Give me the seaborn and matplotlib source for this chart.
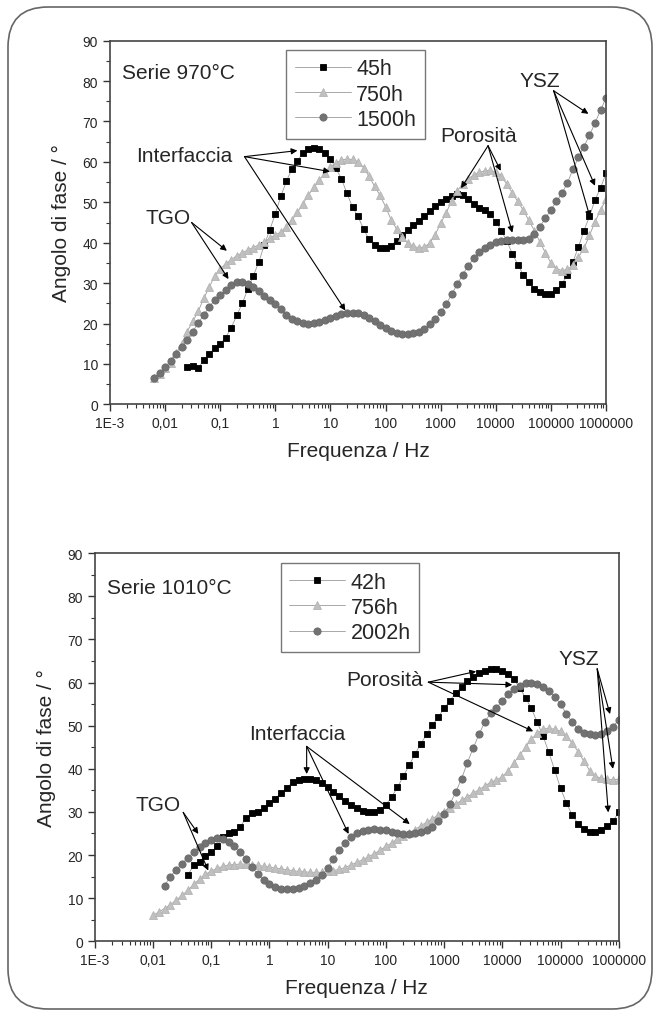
import numpy as np
import pandas as pd
import seaborn as sns
import matplotlib
matplotlib.use("Agg")
import matplotlib.pyplot as plt
from matplotlib.patches import FancyBboxPatch
from matplotlib.transforms import IdentityTransform
from matplotlib.ticker import LogLocator, NullFormatter, MultipleLocator

# Phase angle (deg), one value every 0.1 decade,
# each sweep ends at 1 MHz and starts at the exponent given below
# --- Serie 970°C ---
top_labels = ["45h", "750h", "1500h"]
top_start = [-1.6, -2.2, -2.2]
top_45h = [9.2, 9.6, 8.9, 11.0, 12.4, 14.0, 15.0, 16.5, 19.0, 22.0,
           25.0, 28.5, 31.8, 35.2, 39.5, 43.2, 47.2, 51.5, 55.2, 58.2,
           60.3, 62.2, 63.1, 63.4, 63.3, 62.3, 60.7, 58.4, 55.8, 52.2,
           48.8, 46.5, 43.4, 40.8, 39.4, 38.7, 38.7, 39.3, 40.5, 41.8,
           43.2, 44.4, 45.4, 46.7, 47.9, 49.0, 50.0, 50.8, 51.5, 52.0,
           51.8, 50.8, 49.7, 48.6, 48.0, 47.0, 45.2, 43.0, 40.4, 37.3,
           34.6, 32.0, 30.2, 28.6, 27.8, 27.3, 27.3, 28.2, 29.8, 32.0,
           35.2, 39.0, 43.0, 46.5, 50.6, 53.5, 57.2]
top_750h = [6.5, 7.6, 8.9, 10.2, 12.6, 15.0, 18.0, 20.5, 23.0, 26.2,
            29.0, 31.8, 33.5, 34.8, 35.8, 36.8, 37.5, 38.2, 38.8, 39.5,
            40.2, 41.1, 42.0, 42.6, 44.0, 45.5, 47.5, 49.6, 51.8, 53.7,
            55.5, 57.2, 58.8, 59.7, 60.5, 60.7, 60.6, 60.0, 58.6, 56.4,
            54.0, 51.7, 48.9, 45.7, 43.4, 41.3, 39.9, 39.1, 38.8, 38.9,
            39.9, 42.0, 44.8, 47.4, 50.4, 52.8, 54.5, 55.8, 56.8, 57.4,
            57.8, 57.9, 57.4, 56.4, 54.5, 52.3, 50.2, 48.0, 45.5, 43.0,
            40.2, 37.5, 35.0, 33.6, 33.1, 33.4, 34.4, 36.4, 38.6, 41.8,
            45.2, 48.0, 50.8]
top_1500h = [6.6, 7.8, 9.3, 10.7, 12.4, 14.1, 15.9, 18.0, 20.1, 22.1,
             24.1, 25.8, 27.1, 28.3, 29.5, 30.2, 30.3, 29.9, 29.1, 28.0,
             26.9, 25.9, 24.8, 23.5, 22.2, 21.2, 20.5, 20.1, 20.0, 20.1,
             20.4, 20.9, 21.4, 21.9, 22.4, 22.7, 22.7, 22.5, 22.0, 21.4,
             20.6, 19.7, 18.9, 18.2, 17.7, 17.5, 17.4, 17.6, 18.0, 18.7,
             19.8, 21.1, 22.8, 24.8, 27.2, 29.7, 32.1, 34.3, 36.1, 37.6,
             38.7, 39.5, 40.1, 40.5, 40.6, 40.7, 40.7, 40.7, 40.9, 42.2,
             44.0, 46.0, 48.2, 50.2, 52.2, 54.8, 58.2, 61.1, 63.8, 66.6,
             69.6, 72.8, 75.8]

# --- Serie 1010°C ---
bot_labels = ["42h", "756h", "2002h"]
bot_start = [-1.4, -2.0, -1.8]
bot_42h = [15.4, 17.6, 18.5, 19.8, 20.6, 22.0, 24.2, 25.0, 25.4, 26.6,
           28.6, 29.7, 30.0, 30.8, 32.1, 33.1, 34.4, 35.6, 36.9, 37.4,
           37.6, 37.6, 37.3, 36.6, 35.7, 34.6, 33.7, 32.6, 31.7, 30.8,
           30.2, 29.9, 30.0, 30.5, 31.6, 33.5, 35.7, 38.3, 40.8, 43.4,
           45.8, 48.0, 50.1, 52.0, 54.0, 55.8, 57.6, 59.0, 60.3, 61.4,
           62.3, 62.8, 63.2, 63.1, 62.8, 62.1, 60.8, 58.7, 56.5, 54.0,
           50.8, 47.6, 43.8, 39.7, 35.5, 32.1, 29.3, 27.3, 26.0, 25.3,
           25.3, 25.9, 26.8, 27.8, 30.0]
bot_756h = [6.0, 6.8, 7.6, 8.5, 9.5, 10.7, 11.8, 13.2, 14.4, 15.5,
            16.3, 16.9, 17.4, 17.7, 17.8, 17.9, 17.9, 17.8, 17.6, 17.4,
            17.2, 17.0, 16.8, 16.6, 16.4, 16.2, 16.1, 16.0, 16.0, 16.0,
            16.2, 16.4, 16.7, 17.1, 17.7, 18.3, 18.9, 19.6, 20.3, 21.1,
            22.0, 22.8, 23.7, 24.5, 25.2, 25.9, 26.8, 27.6, 28.4, 29.3,
            30.1, 31.0, 31.8, 32.7, 33.5, 34.3, 35.2, 36.0, 36.9, 37.4,
            38.2, 39.5, 41.4, 43.2, 45.0, 46.9, 48.2, 49.2, 49.4, 49.2,
            48.7, 47.5, 46.0, 44.0, 41.8, 39.6, 38.3, 37.8, 37.6, 37.5,
            37.6]
bot_2002h = [12.9, 15.0, 16.6, 18.0, 19.4, 20.7, 21.8, 22.8, 23.6, 23.9,
             23.7, 23.1, 22.2, 20.8, 19.1, 17.2, 15.6, 14.2, 13.3, 12.6,
             12.2, 12.1, 12.1, 12.3, 12.9, 13.6, 14.3, 15.3, 16.9, 19.1,
             21.2, 22.9, 24.2, 25.1, 25.6, 25.9, 26.0, 25.9, 25.7, 25.4,
             25.1, 24.9, 24.9, 25.0, 25.3, 25.7, 26.6, 27.9, 29.5, 31.8,
             34.6, 37.7, 41.4, 44.8, 48.0, 50.9, 52.9, 54.2, 55.8, 57.3,
             58.5, 59.3, 59.8, 59.9, 59.6, 59.0, 58.0, 56.7, 55.0, 52.8,
             50.8, 49.3, 48.4, 48.0, 47.9, 48.1, 48.7, 49.8, 51.4]

x_ticks = [1e-3, 1e-2, 1e-1, 1, 10, 100, 1e3, 1e4, 1e5, 1e6]
x_ticklabels = ["1E-3", "0,01", "0,1", "1", "10", "100", "1000", "10000",
                "100000", "1000000"]

# annotations: label, text (log10 f, deg), arrow tail, arrow heads
top_notes = [
    ("Interfaccia", (-1.66, 61.5), (-0.56, 61.3), [(0.40, 62.8), (0.99, 57.6), (1.27, 23.2)]),
    ("TGO", (-1.95, 46.3), (-1.52, 45.0), [(-0.88, 38.0), (-0.85, 31.0)]),
    ("Porosità", (3.68, 66.5), (3.86, 64.0), [(3.37, 53.5), (4.09, 57.8), (4.30, 42.5)]),
    ("YSZ", (4.80, 80.1), (5.05, 77.6), [(5.68, 71.9), (5.80, 54.1), (5.71, 46.3)]),
]
bot_notes = [
    ("Interfaccia", (0.48, 48.1), (0.64, 45.2), [(0.64, 38.8), (1.36, 24.9), (2.41, 27.2)]),
    ("Porosità", (1.97, 60.8), (2.73, 60.1), [(3.55, 62.6), (4.17, 59.5), (4.53, 48.7)]),
    ("YSZ", (5.32, 65.5), (5.63, 63.2), [(5.85, 52.7), (5.90, 40.0), (5.82, 29.9)]),
    ("TGO", (-1.92, 31.8), (-1.48, 29.9), [(-1.22, 24.9), (-1.05, 16.4)]),
]

styles = [
    dict(marker="s", markersize=4.4, markerfacecolor="black", markeredgecolor="black"),
    dict(marker="^", markersize=5.4, markerfacecolor="#c0c0c0", markeredgecolor="#b4b4b4"),
    dict(marker="o", markersize=5.2, markerfacecolor="#727272", markeredgecolor="#6a6a6a"),
]

sns.set_style("ticks")
plt.rcParams["font.family"] = ["Liberation Sans", "DejaVu Sans"]


def draw_panel(ax, series, starts, labels, notes, title):
    for vals, start, lab, st in zip(series, starts, labels, styles):
        freq = np.logspace(start, 6, len(vals))
        df = pd.DataFrame({"f": freq, "phase": vals})
        sns.lineplot(data=df, x="f", y="phase", ax=ax, label=lab, color="#9a9a9a",
                     lw=0.6, markeredgewidth=0.6, **st)
    ax.set_xscale("log")
    ax.set_xlim(1e-3, 1e6)
    ax.set_ylim(0, 90)
    ax.set_xticks(x_ticks)
    ax.set_xticklabels(x_ticklabels)
    ax.xaxis.set_minor_locator(LogLocator(base=10, subs=np.arange(2, 10), numticks=20))
    ax.xaxis.set_minor_formatter(NullFormatter())
    ax.yaxis.set_major_locator(MultipleLocator(10))
    ax.yaxis.set_minor_locator(MultipleLocator(5))
    ax.tick_params(which="major", direction="out", length=5, width=1.0, labelsize=10,
                   color="#333333")
    ax.tick_params(which="minor", direction="out", length=3, width=0.8, color="#333333")
    for sp in ax.spines.values():
        sp.set_color("#444444")
        sp.set_linewidth(1.2)
        sp.set_visible(True)
    ax.set_xlabel("Frequenza / Hz", fontsize=15, labelpad=8)
    ax.set_ylabel("Angolo di fase / °", fontsize=15, labelpad=8)
    ax.text(0.024, 0.912, title, transform=ax.transAxes, fontsize=15, va="center", ha="left")

    for label, txt, tail, heads in notes:
        ax.text(10 ** txt[0], txt[1], label, fontsize=15, ha="center", va="center")
        for hx, hy in heads:
            ax.annotate("", xy=(10 ** hx, hy), xytext=(10 ** tail[0], tail[1]),
                        arrowprops=dict(arrowstyle="-|>", color="black", lw=0.8,
                                        mutation_scale=9, shrinkA=0, shrinkB=0))

    leg = ax.legend(loc="upper left", bbox_to_anchor=(0.355, 0.975), fontsize=15.5,
                    frameon=True, fancybox=False, edgecolor="#777777", framealpha=1,
                    handlelength=2.6, handletextpad=0.25, labelspacing=0.2,
                    borderpad=0.4, borderaxespad=0)
    leg.get_frame().set_linewidth(1.0)


fig = plt.figure(figsize=(6.6, 10.12), dpi=100)
ax1 = fig.add_axes([0.1667, 0.5995, 0.7515, 0.3593])
ax2 = fig.add_axes([0.1435, 0.0689, 0.794, 0.3834])

draw_panel(ax1, [top_45h, top_750h, top_1500h], top_start, top_labels, top_notes,
           "Serie 970°C")
draw_panel(ax2, [bot_42h, bot_756h, bot_2002h], bot_start, bot_labels, bot_notes,
           "Serie 1010°C")

# rounded frame round the whole page
frame = FancyBboxPatch((8, 2), 644, 1002, boxstyle="round,pad=0,rounding_size=40",
                       transform=IdentityTransform(), fill=False, edgecolor="#666666",
                       lw=1.2)
fig.patches.append(frame)

fig.savefig("out.png", dpi=100)
